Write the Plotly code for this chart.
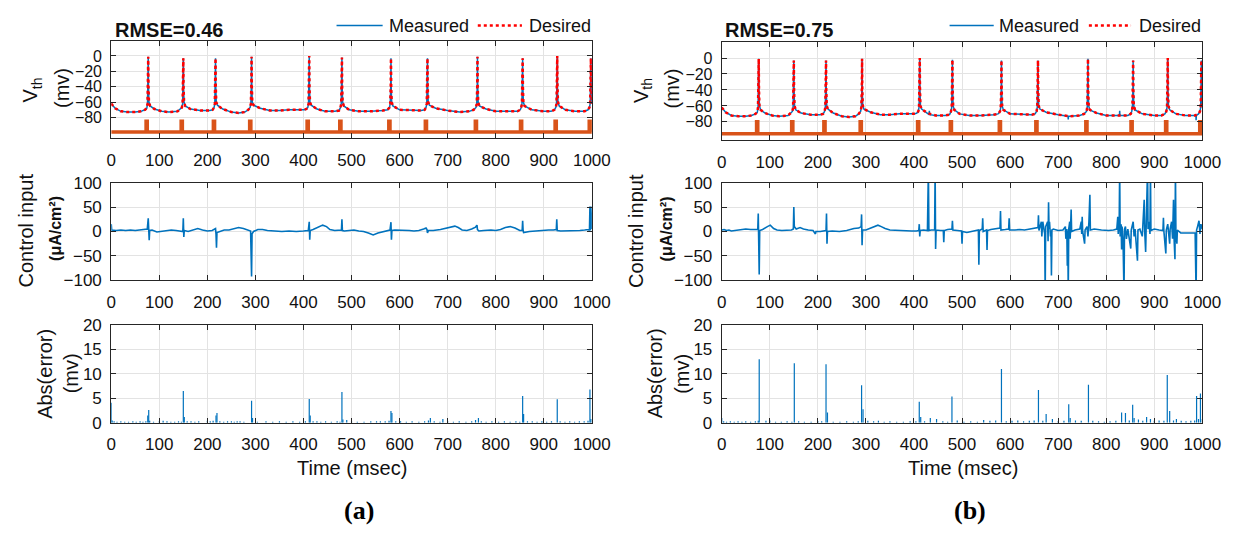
import plotly.graph_objects as go

W, H = 1255, 537

# ---------------- data ----------------
TICKS_T = [0, 100, 200, 300, 400, 500, 600, 700, 800, 900, 1000]

# membrane potential (desired trajectory), knots in msec / mV
V_T = [
    0, 8, 20, 35, 50, 62, 70, 74, 75.5, 76.5, 77, 77.5, 78.5, 81, 90, 105, 120, 138,
    144, 147, 148.5, 149.5, 150, 150.5, 151.5, 154, 165, 185, 205,
    211, 214, 215.5, 216.5, 217, 217.5, 218.5, 221, 232, 250, 265, 278, 285,
    289, 290.5, 291.5, 292, 292.5, 293.5, 296, 310, 330, 350, 370, 390, 402,
    406, 409, 410.5, 411.5, 412, 412.5, 413.5, 416, 428, 445, 465, 474,
    477, 478.5, 479.5, 480, 480.5, 481.5, 484, 495, 515, 540, 565, 575,
    579, 580.5, 581.5, 582, 582.5, 583.5, 586, 600, 625, 645, 652,
    655, 656.5, 657.5, 658, 658.5, 659.5, 662, 675, 700, 725, 745, 754,
    759, 760.5, 761.5, 762, 762.5, 763.5, 766, 780, 800, 825, 845, 851,
    853, 854.5, 855.5, 856, 856.5, 857.5, 860, 875, 900, 915, 922,
    925, 926.5, 927.5, 928, 928.5, 929.5, 932, 945, 965, 985, 992,
    995, 996.5, 997.5, 998, 998.5, 999.2, 1000]
V_DESIRED = [
    -62, -68, -72, -73, -73, -72, -70, -68, -62, -40, -1, -40, -60, -65, -69, -72, -73, -72,
    -69, -67, -62, -40, -3, -40, -60, -65, -69, -71, -71,
    -70, -67, -62, -40, -3, -40, -60, -64, -69, -73, -74, -73, -70,
    -67, -62, -40, -1, -40, -60, -64, -68, -71, -71, -70, -70, -70,
    -69, -67, -62, -40, 0, -40, -60, -64, -69, -72, -72, -71,
    -67, -62, -40, -2, -40, -60, -65, -70, -72, -72, -71, -70,
    -67, -62, -40, -3, -40, -60, -65, -70, -71, -71, -70,
    -67, -62, -40, -3, -40, -60, -64, -68, -71, -73, -72, -70,
    -67, -62, -40, -1, -40, -60, -65, -69, -72, -72, -72, -70,
    -67, -62, -40, -3, -40, -60, -65, -70, -72, -72, -70,
    -67, -62, -40, 0, -40, -60, -65, -70, -72, -72, -70,
    -67, -62, -40, -3, -30, -55, -62]

# small deviations of the measured trace in case (b)
BLIP_B_T = [431.5, 432, 432.5, 720.5, 721, 721.5, 827.5, 828, 828.5, 986.5, 987, 987.5]
BLIP_B_V = [-71, -66, -71, -73, -77, -73, -72, -66, -72, -72, -78, -72]

# stimulus pulses (start / end, msec) and their drawn levels
STIM_ON = [72.5, 145.5, 212.5, 288, 407.5, 475.5, 577.5, 653.5, 757.5, 851.5, 923.5, 994.5]
STIM_OFF = [75, 148, 215, 290.5, 410, 478, 580, 656, 760, 854, 926, 997]
STIM_LEVEL_A = (-99, -85)
STIM_LEVEL_B = (-95, -80)

# control input, case (a)
U_A_T = [0, 1, 10, 20, 30, 40, 50, 60, 70, 75, 77, 78, 79, 80, 85, 95, 105, 115, 125,
         135, 145, 149, 150, 151, 152, 160, 170, 180, 190, 200, 210, 216, 217, 218,
         219, 220, 225, 235, 245, 255, 265, 275, 285, 290, 292, 293, 296, 305, 315,
         325, 340, 355, 370, 385, 400, 410, 412, 413, 414, 420, 430, 440, 448, 455,
         465, 475, 479, 480, 481, 485, 495, 505, 515, 525, 535, 545, 555, 565, 575,
         580, 582, 583, 584, 590, 600, 610, 620, 630, 640, 650, 655, 657, 658, 660,
         670, 685, 695, 705, 715, 722, 730, 740, 750, 758, 761, 762, 765, 775, 790,
         800, 810, 820, 830, 840, 850, 855, 856, 857, 858, 870, 880, 890, 900, 910,
         920, 926, 927, 928, 935, 945, 955, 965, 975, 985, 993, 995, 996, 997, 998, 1000]
U_A_V = [15, 3, 2, 3, 2, 3, 2, 3, 4, 5, 27, 10, -18, 2, 3, -1, 0, 2, 3,
         2, 1, 0, 27, -11, 2, 0, 3, 6, 3, 1, 2, 5, 6, -5,
         -33, -2, 0, 3, 3, 6, 8, 6, 2, 1, -92, -5, 0, 4, 4,
         2, 1, 0, 1, 0, 1, 2, 20, -17, 2, 4, 8, 13, 10, 4,
         2, 3, 3, 25, 2, 1, 2, 3, 1, 0, -3, -7, -3, 0, 2,
         3, 19, -17, 2, 3, 3, 2, 2, 1, 2, 5, 7, 4, -3, 2,
         2, 4, 6, 9, 11, 8, 3, 2, 5, 9, 13, 4, 1, 2, 3,
         2, 4, 8, 10, 7, 2, 2, 22, 2, -2, 0, 1, 2, 2, 3,
         3, 4, 25, 2, 1, 1, 1, 1, 2, 3, 4, 2, 51, 2, 51, 5]

# control input, case (b)
U_B_T = [0, 5, 10, 15, 20, 30, 40, 50, 60, 70, 75, 76, 77, 78, 79, 85, 95, 101, 108,
         115, 125, 135, 145, 149, 150, 151, 155, 163, 170, 180, 190, 195, 196, 205,
         212, 217, 218, 219, 220, 230, 245, 260, 275, 285, 290, 291, 292, 293, 300,
         310, 318, 325, 332, 340, 350, 365, 380, 395, 405, 410, 411, 412, 413, 420,
         428, 430, 431, 436, 443, 444, 445, 446, 455, 461, 462, 463, 470, 479, 480,
         481, 490, 499, 500, 501, 510, 520, 530, 534, 535, 536, 542, 543, 544, 551,
         552, 553, 560, 570, 579, 580, 581, 590, 597, 598, 599, 610, 620, 630, 640,
         650, 658, 659, 660, 665, 666, 668, 670, 672, 673, 674, 678, 679, 680, 681,
         682, 684, 685, 686, 687, 690, 700, 710, 715, 716, 718, 719, 720, 721, 722,
         724, 725, 727, 728, 735, 745, 748, 749, 750, 751, 755, 756, 760, 762, 764,
         766, 767, 775, 790, 805, 815, 822, 824, 825, 827, 828, 829, 831, 832, 833,
         835, 837, 838, 840, 842, 845, 851, 852, 856, 858, 860, 865, 866, 870, 875,
         879, 880, 882, 883, 886, 887, 889, 891, 892, 893, 900, 910, 918, 919, 920,
         924, 925, 928, 932, 933, 936, 938, 940, 941, 943, 944, 945, 947, 948, 955,
         965, 975, 985, 987, 988, 990, 993, 995, 997, 1000]
U_B_V = [3, 4, 2, 3, 1, 2, 4, 5, 4, 3, 4, 37, 0, -88, 2, 4, 10, 13, 6,
         3, 2, 3, 3, 5, 50, 10, 5, 8, 5, 3, 2, -5, 0, 0,
         1, 2, 37, -25, 0, 1, 0, 2, 6, 7, 10, 35, -28, 3, 3,
         7, 11, 13, 10, 6, 3, 2, 2, 1, 1, 2, 15, -10, 2, 3,
         2, 130, 2, 3, 3, 130, -36, 3, 2, 2, -22, 2, 4, 5, 22,
         3, 2, 1, -25, 0, -2, 0, 2, 3, -68, 2, 5, 27, 0, 3,
         -38, 2, 4, 5, 7, 42, 3, 4, 5, 27, 3, 3, 4, 3, 5,
         7, 8, 33, 2, 20, -10, 20, 5, -5, -130, 10, 20, -20, 60, 5,
         20, -10, 2, -90, 3, 5, 2, 3, 10, -15, 5, -70, 2, -130, 5,
         20, -15, 45, 0, 3, 5, 20, -5, 30, 0, -25, 3, 10, -10, 20,
         75, 3, 5, 3, 2, 3, 5, 30, -5, 20, 130, -10, 15, -37, 10,
         -20, -130, 5, 10, -15, 5, -35, 3, 20, -10, 5, -60, 3, 5, -10,
         65, 2, -42, 5, 130, 5, 20, -5, 130, 2, 5, 3, 2, 28, 0,
         -45, 3, 15, -25, 5, 20, -15, 65, -10, -57, 130, -5, -25, 3, -3,
         -3, -4, -3, -130, 3, 10, 22, -5, 15, 5]

# absolute tracking error, case (a)
ERR_A_T = [0, 2, 6, 12, 20, 28, 36, 45, 52, 60, 66, 72, 76, 78, 80, 88, 100, 108, 116,
           124, 132, 140, 146, 150, 152, 158, 166, 174, 182, 200, 206, 212, 218, 220,
           226, 234, 242, 250, 256, 262, 268, 276, 292, 294, 304, 322, 336, 350, 364,
           378, 392, 404, 412, 414, 420, 428, 436, 446, 458, 470, 476, 480, 482, 490,
           500, 512, 526, 540, 552, 560, 570, 578, 582, 584, 592, 602, 614, 626, 640,
           652, 660, 664, 672, 684, 690, 700, 712, 724, 738, 750, 758, 764, 770, 780,
           792, 806, 818, 830, 842, 850, 856, 858, 866, 876, 886, 896, 906, 916, 928,
           934, 944, 954, 964, 974, 984, 992, 996, 998]
ERR_A_V = [4.1, 0.5, 0.3, 0.2, 0.3, 0.2, 0.2, 0.3, 0.2, 0.3, 0.2, 0.3, 1.5, 2.6, 0.4, 0.2, 0.3, 0.4, 0.3,
           0.2, 0.2, 0.3, 0.2, 6.5, 1.2, 0.3, 0.3, 0.2, 0.3, 0.4, 0.3, 0.4, 1.5, 2.0,
           0.3, 0.2, 0.3, 0.3, 0.2, 0.3, 0.3, 0.2, 4.5, 1.0, 0.2, 0.3, 0.2, 0.3, 0.2,
           0.3, 0.2, 0.3, 4.9, 1.5, 0.3, 0.3, 0.2, 0.3, 0.2, 0.3, 0.2, 6.3, 0.7, 0.6,
           0.3, 0.2, 0.2, 0.3, 0.3, 0.3, 0.3, 0.4, 2.4, 2.0, 0.3, 0.3, 0.2, 0.3, 0.2,
           0.3, 0.5, 1.0, 0.3, 0.2, 0.8, 0.3, 0.2, 0.3, 0.2, 0.3, 0.6, 1.0, 0.3, 0.2,
           0.3, 0.2, 0.3, 0.2, 0.3, 0.2, 5.5, 1.8, 0.3, 0.3, 0.2, 0.3, 0.2, 0.3, 4.8,
           0.3, 0.2, 0.3, 0.2, 0.3, 0.3, 0.4, 6.8, 0.8]

# absolute tracking error, case (b)
ERR_B_T = [0, 4, 10, 18, 26, 34, 42, 50, 60, 70, 76, 78, 92, 100, 112, 124, 136, 146,
           151, 160, 172, 186, 200, 208, 217, 220, 232, 246, 260, 274, 284, 291, 294,
           304, 316, 326, 338, 350, 364, 378, 392, 404, 411, 414, 422, 434, 447, 460,
           470, 479, 490, 504, 518, 532, 545, 558, 570, 582, 592, 604, 616, 628, 640,
           650, 659, 668, 675, 688, 700, 712, 722, 725, 736, 748, 763, 772, 784, 796,
           808, 820, 832, 840, 848, 855, 858, 867, 876, 884, 892, 900, 910, 920, 927,
           932, 940, 946, 956, 966, 976, 984, 988, 992, 996, 1000]
ERR_B_V = [1.0, 0.3, 0.2, 0.3, 0.2, 0.3, 0.2, 0.3, 0.2, 0.3, 0.4, 13.0, 0.4, 0.5, 0.2, 0.2, 0.3, 0.2,
           12.2, 0.3, 0.2, 0.2, 0.3, 0.3, 12.0, 2.1, 0.2, 0.2, 0.3, 0.2, 0.3, 7.7, 2.8,
           0.4, 0.3, 0.4, 0.2, 0.3, 0.2, 0.2, 0.3, 0.3, 4.3, 1.2, 0.3, 1.0, 0.8, 0.3,
           0.2, 5.4, 0.5, 0.2, 0.3, 0.2, 0.6, 0.4, 0.5, 11.0, 0.3, 0.4, 0.5, 0.3, 0.4,
           0.5, 6.7, 0.4, 1.8, 0.8, 0.3, 0.4, 3.8, 1.0, 0.5, 0.4, 7.8, 0.4, 0.3, 0.2,
           0.3, 0.4, 2.1, 2.0, 0.5, 3.7, 1.0, 0.7, 0.4, 1.2, 0.8, 0.4, 0.5, 0.4, 9.8,
           2.4, 0.5, 0.8, 0.4, 0.3, 0.4, 0.5, 5.5, 0.8, 6.0, 0.8]

RMSE_A, RMSE_B = 0.46, 0.75

# ---------------- styling ----------------
BLUE = "#0072BD"
RED = "#FF0000"
ORANGE = "#D95319"
AXC = "#262626"
GRID = "#e3e3e3"
SANS = "Liberation Sans, Arial, sans-serif"
SERIF = "Liberation Serif, Times New Roman, serif"


def px(x):
    return x / W


def py(y):
    return 1 - y / H


def step_trace(on, off, level):
    base, top = level
    xs, ys = [0], [base]
    for a, b in zip(on, off):
        xs += [a, a, b, b]
        ys += [base, top, top, base]
    xs.append(1000)
    ys.append(base)
    return xs, ys


def stems(ts, vs):
    xs, ys = [], []
    for t, v in zip(ts, vs):
        xs += [t, t, None]
        ys += [0, v, None]
    return xs, ys


# measured trace for (b): desired knots plus the small deviations
merged = sorted(zip(V_T + BLIP_B_T, V_DESIRED + BLIP_B_V))
VB_T = [p[0] for p in merged]
VB_MEAS = [p[1] for p in merged]

fig = go.Figure()

# --- (a) membrane potential ---
sx, sy = step_trace(STIM_ON, STIM_OFF, STIM_LEVEL_A)
fig.add_trace(go.Scatter(x=sx, y=sy, mode="lines", line=dict(color=ORANGE, width=3.5),
                         xaxis="x", yaxis="y"))
fig.add_trace(go.Scatter(x=V_T, y=V_DESIRED, mode="lines", name="Measured",
                         line=dict(color=BLUE, width=1.5), xaxis="x", yaxis="y"))
fig.add_trace(go.Scatter(x=V_T, y=V_DESIRED, mode="lines", name="Desired",
                         line=dict(color=RED, width=2.5, dash="dot"), xaxis="x", yaxis="y"))
# --- (a) control input ---
fig.add_trace(go.Scatter(x=U_A_T, y=U_A_V, mode="lines", line=dict(color=BLUE, width=1.6),
                         xaxis="x2", yaxis="y2"))
# --- (a) error ---
ex, ey = stems(ERR_A_T, ERR_A_V)
fig.add_trace(go.Scatter(x=ex, y=ey, mode="lines", line=dict(color=BLUE, width=1.2),
                         xaxis="x3", yaxis="y3"))

# --- (b) membrane potential ---
sx, sy = step_trace(STIM_ON, STIM_OFF, STIM_LEVEL_B)
fig.add_trace(go.Scatter(x=sx, y=sy, mode="lines", line=dict(color=ORANGE, width=3.5),
                         xaxis="x4", yaxis="y4"))
fig.add_trace(go.Scatter(x=VB_T, y=VB_MEAS, mode="lines", name="Measured",
                         line=dict(color=BLUE, width=1.5), xaxis="x4", yaxis="y4"))
fig.add_trace(go.Scatter(x=V_T, y=V_DESIRED, mode="lines", name="Desired",
                         line=dict(color=RED, width=2.5, dash="dot"), xaxis="x4", yaxis="y4"))
# --- (b) control input ---
fig.add_trace(go.Scatter(x=U_B_T, y=U_B_V, mode="lines", line=dict(color=BLUE, width=1.6),
                         xaxis="x5", yaxis="y5"))
# --- (b) error ---
ex, ey = stems(ERR_B_T, ERR_B_V)
fig.add_trace(go.Scatter(x=ex, y=ey, mode="lines", line=dict(color=BLUE, width=1.2),
                         xaxis="x6", yaxis="y6"))

# ---------------- axes ----------------
XL = [px(108.3), px(598.3)]
XR = [px(730.7), px(1220.7)]
ROWS_L = [[py(134), py(32.7)], [py(281.3), py(180)], [py(429), py(327.7)]]
ROWS_R = [[py(136), py(34.3)], [py(281.3), py(180)], [py(429), py(327.7)]]

YCFG = [
    dict(range=[-107, 20], tickvals=[-80, -60, -40, -20, 0]),
    dict(range=[-100, 100], tickvals=[-100, -50, 0, 50, 100]),
    dict(range=[0, 20], tickvals=[0, 5, 10, 15, 20]),
]
YCFG_B = [dict(range=[-103, 20], tickvals=[-80, -60, -40, -20, 0]), YCFG[1], YCFG[2]]

common = dict(
    showline=True, linecolor=AXC, linewidth=1, mirror="ticks",
    ticks="inside", ticklen=5, tickwidth=1, tickcolor=AXC,
    showgrid=True, gridcolor=GRID, gridwidth=1, zeroline=False,
    tickfont=dict(family=SANS, size=17, color="#111111"),
)

layout_axes = {}
for i in range(6):
    side_left = i < 3
    row = i % 3
    n = "" if i == 0 else str(i + 1)
    xdom = XL if side_left else XR
    ydom = (ROWS_L if side_left else ROWS_R)[row]
    ycfg = (YCFG if side_left else YCFG_B)[row]
    layout_axes["xaxis" + n] = dict(
        common, domain=xdom, anchor="y" + n, range=[0, 1000],
        tickvals=TICKS_T, ticklabelstandoff=6,
    )
    ystyle = dict(common, domain=ydom, anchor="x" + n, ticklabelstandoff=5, **ycfg)
    if row == 0:
        # the membrane-potential ticks are tightly spaced
        ystyle["tickfont"] = dict(family=SANS, size=16, color="#111111")
    layout_axes["yaxis" + n] = ystyle

fig.update_layout(**layout_axes)

# ---------------- text ----------------
ann = []
shapes = []


def text(x, y, s, size, bold=False, angle=0, xanchor="center", family=SANS, color="#111111"):
    ann.append(dict(
        xref="paper", yref="paper", x=px(x), y=py(y), text=("<b>%s</b>" % s) if bold else s,
        showarrow=False, textangle=angle, xanchor=xanchor, yanchor="middle",
        font=dict(family=family, size=size, color=color),
    ))


for dx, rmse, leg in [(0, RMSE_A, (338, 385, 389, 482, 527, 532)),
                      (622.4, RMSE_B, (963, 1008, 1011, 1105, 1148, 1154))]:
    text(110 + dx, 22, "RMSE=%.2f" % rmse, 20, bold=True, xanchor="left")
    b0, b1, bt, r0, r1, rt = leg
    shapes.append(dict(type="line", xref="paper", yref="paper", x0=px(b0), x1=px(b1),
                       y0=py(17), y1=py(17), line=dict(color=BLUE, width=1.5)))
    shapes.append(dict(type="line", xref="paper", yref="paper", x0=px(r0), x1=px(r1),
                       y0=py(17), y1=py(17), line=dict(color=RED, width=2.5, dash="dot")))
    text(bt, 18, "Measured", 18, xanchor="left")
    text(rt, 18, "Desired", 18, xanchor="left")

    # y-axis titles
    text(27 + dx, 84, "V<sub>th</sub>", 20, angle=-90)
    text(58 + dx, 82, "(mv)", 20, angle=-90)
    text(21 + dx, 230, "Control input", 20, angle=-90)
    text(52 + dx, 228, "(μA/cm²)", 16, bold=True, angle=-90)
    text(40 + dx, 378, "Abs(error)", 20, angle=-90)
    text(67 + dx, 378, "(mv)", 20, angle=-90)

    # x-axis title
    text(354 + dx, 476, "Time (msec)", 20)

text(361, 520, "(a)", 26, bold=True, family=SERIF, color="#000000")
text(984, 520, "(b)", 26, bold=True, family=SERIF, color="#000000")

fig.update_layout(
    width=W, height=H, margin=dict(l=0, r=0, t=0, b=0),
    paper_bgcolor="white", plot_bgcolor="white",
    annotations=ann, shapes=shapes, showlegend=False,
)

fig.write_html("out.html")
